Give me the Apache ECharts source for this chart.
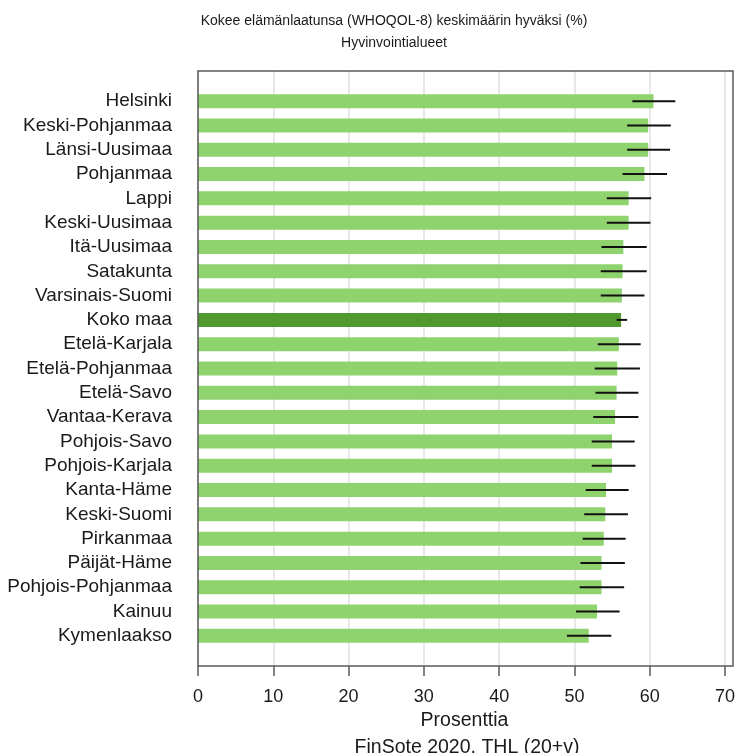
<!DOCTYPE html>
<html>
<head>
<meta charset="utf-8">
<script src="https://cdn.jsdelivr.net/npm/echarts@6/dist/echarts.min.js"></script>
<style>html,body{margin:0;padding:0;background:#fff}#c{width:739px;height:753px}</style>
</head>
<body>
<div id="c"></div>
<script>
var categories = ["Helsinki","Keski-Pohjanmaa","Länsi-Uusimaa","Pohjanmaa","Lappi","Keski-Uusimaa","Itä-Uusimaa","Satakunta","Varsinais-Suomi","Koko maa","Etelä-Karjala","Etelä-Pohjanmaa","Etelä-Savo","Vantaa-Kerava","Pohjois-Savo","Pohjois-Karjala","Kanta-Häme","Keski-Suomi","Pirkanmaa","Päijät-Häme","Pohjois-Pohjanmaa","Kainuu","Kymenlaakso"];
var values = [60.5, 59.8, 59.8, 59.3, 57.2, 57.2, 56.5, 56.4, 56.3, 56.2, 55.9, 55.7, 55.6, 55.4, 55.0, 55.0, 54.2, 54.1, 53.9, 53.6, 53.6, 53.0, 51.9];
var lower = [57.7, 57.0, 57.0, 56.4, 54.3, 54.3, 53.6, 53.5, 53.5, 55.6, 53.1, 52.7, 52.8, 52.5, 52.3, 52.3, 51.5, 51.3, 51.1, 50.8, 50.7, 50.2, 49.0];
var upper = [63.4, 62.8, 62.7, 62.3, 60.2, 60.1, 59.6, 59.6, 59.3, 57.0, 58.8, 58.7, 58.5, 58.5, 58.0, 58.1, 57.2, 57.1, 56.8, 56.7, 56.6, 56.0, 54.9];
var xTicks = [0, 10, 20, 30, 40, 50, 60, 70];
var highlight = "Koko maa";

var font = "Liberation Sans, Arial, sans-serif";
var chart = echarts.init(document.getElementById('c'));
var barData = values.map(function (v, i) {
  return {
    value: v,
    itemStyle: { color: categories[i] === highlight ? '#50992f' : '#8fd36f' }
  };
});
var errData = categories.map(function (c, i) { return [i, lower[i], upper[i]]; });

chart.setOption({
  animation: false,
  backgroundColor: '#fff',
  title: [{
    text: 'Kokee elämänlaatunsa (WHOQOL-8) keskimäärin hyväksi (%)\nHyvinvointialueet',
    left: 389, top: 5, textAlign: 'center',
    textStyle: { fontFamily: font, fontSize: 14, fontWeight: 'normal', color: '#1a1a1a', lineHeight: 22 }
  }, {
    text: 'FinSote 2020, THL (20+v)',
    left: 462, top: 733, textAlign: 'center',
    textStyle: { fontFamily: font, fontSize: 19.5, fontWeight: 'normal', color: '#1a1a1a' }
  }],
  grid: [
    { left: 198, width: 527, top: 71, height: 595 },
    { left: 198, width: 527, top: 89, height: 559 }
  ],
  xAxis: [{
    gridIndex: 0, type: 'value', min: 0, max: 70, interval: 10,
    axisLine: { show: false },
    axisTick: { show: true, length: 10, lineStyle: { color: '#5a5a5a', width: 1.5 } },
    axisLabel: { margin: 22, fontFamily: font, fontSize: 18, color: '#1a1a1a',
      formatter: function (v) { return xTicks.indexOf(v) >= 0 ? String(v) : ''; } },
    splitLine: { show: true, lineStyle: { color: '#e0e0e0', width: 1.5 } },
    name: 'Prosenttia', nameLocation: 'middle', nameGap: 40,
    nameTextStyle: { fontFamily: font, fontSize: 19.5, color: '#1a1a1a', padding: [0, 0, 0, 6] }
  }, {
    gridIndex: 1, type: 'value', min: 0, max: 70, show: false
  }],
  yAxis: [{
    gridIndex: 0, type: 'value', show: false
  }, {
    gridIndex: 1, type: 'category', data: categories, inverse: true,
    axisLine: { show: false }, axisTick: { show: false },
    axisLabel: { interval: 0, margin: 26, fontFamily: font, fontSize: 19, color: '#1a1a1a' },
    splitLine: { show: false }
  }],
  graphic: [{
    type: 'rect', z: 100, silent: true,
    shape: { x: 198, y: 71, width: 535, height: 595 },
    style: { fill: 'none', stroke: '#5a5a5a', lineWidth: 1.5 }
  }],
  series: [{
    type: 'bar', xAxisIndex: 1, yAxisIndex: 1,
    data: barData, barWidth: 14
  }, {
    type: 'custom', xAxisIndex: 1, yAxisIndex: 1,
    data: errData,
    encode: { x: [1, 2], y: 0 },
    renderItem: function (params, api) {
      var y = api.value(0);
      var p1 = api.coord([api.value(1), y]);
      var p2 = api.coord([api.value(2), y]);
      return {
        type: 'line',
        shape: { x1: p1[0], y1: p1[1], x2: p2[0], y2: p2[1] },
        style: { stroke: '#111', lineWidth: 2 }
      };
    },
    z: 10
  }]
});
</script>
</body>
</html>
